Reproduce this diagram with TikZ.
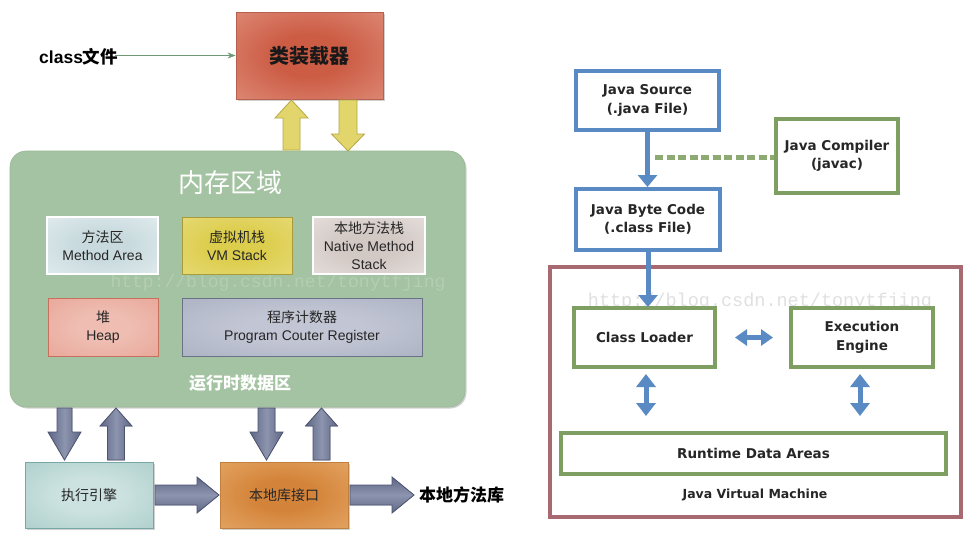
\documentclass[tikz,border=0pt]{standalone}
\usepackage{fontspec}
\setmainfont{Liberation Sans}
\newfontfamily\cjk{Noto Sans CJK SC}
\newfontfamily\jvf{DejaVu Sans}
\newfontfamily\wmf{Liberation Mono}
\usetikzlibrary{arrows.meta,shadows,calc}

\definecolor{memg}{HTML}{A4C3A2}
\definecolor{memgb}{HTML}{98B896}
\definecolor{redin}{HTML}{CC5C44}
\definecolor{redout}{HTML}{E6A090}
\definecolor{redb}{HTML}{B86050}
\definecolor{yelA}{HTML}{E1D56B}
\definecolor{yelB}{HTML}{B5A848}
\definecolor{main}{HTML}{C8DADE}
\definecolor{maout}{HTML}{EEF4F5}
\definecolor{vmin}{HTML}{DCCD4C}
\definecolor{vmout}{HTML}{EBE08A}
\definecolor{vmb}{HTML}{A89B3C}
\definecolor{nain}{HTML}{D2C8C4}
\definecolor{naout}{HTML}{EEEAE8}
\definecolor{hpin}{HTML}{EFBDB2}
\definecolor{hpout}{HTML}{E49C8C}
\definecolor{hpb}{HTML}{C8705E}
\definecolor{pcin}{HTML}{C2C6D4}
\definecolor{pcout}{HTML}{A2A8BC}
\definecolor{pcb}{HTML}{6A7288}
\definecolor{exin}{HTML}{CCE2E0}
\definecolor{exout}{HTML}{9EC6C2}
\definecolor{exb}{HTML}{78A8A6}
\definecolor{ifin}{HTML}{D4843A}
\definecolor{ifout}{HTML}{EBB578}
\definecolor{ifb}{HTML}{C08040}
\definecolor{slA}{HTML}{5E6786}
\definecolor{slB}{HTML}{8C94AE}
\definecolor{slC}{HTML}{4C5470}
\definecolor{jblue}{HTML}{5A8AC4}
\definecolor{jgreen}{HTML}{7E9E62}
\definecolor{jdash}{HTML}{8DAA72}
\definecolor{jred}{HTML}{A86A70}
\definecolor{clsarr}{HTML}{6E9A78}

\newcommand{\glowshade}[3]{\pgfdeclareradialshading{#1}{\pgfpoint{0bp}{0bp}}{color(0bp)=(#2); color(12bp)=(#2); color(50bp)=(#3); color(72bp)=(#3)}}
\glowshade{glowred}{redin}{redout}
\glowshade{glowma}{main}{maout}
\glowshade{glowvm}{vmin}{vmout}
\glowshade{glowna}{nain}{naout}
\glowshade{glowhp}{hpin}{hpout}
\glowshade{glowpc}{pcin}{pcout}
\glowshade{glowex}{exin}{exout}
\glowshade{glowif}{ifin}{ifout}

% vertical block arrow: style, xc, y tail, y tip, shaft half width, head half width, signed head length
\newcommand{\varr}[7]{\filldraw[#1] ({#2-#5},{#3}) -- ({#2-#5},{#4-(#7)}) -- ({#2-#6},{#4-(#7)}) -- ({#2},{#4}) -- ({#2+#6},{#4-(#7)}) -- ({#2+#5},{#4-(#7)}) -- ({#2+#5},{#3}) -- cycle;}
% horizontal block arrow: style, yc, x tail, x tip, shaft half width, head half width, signed head length
\newcommand{\harr}[7]{\filldraw[#1] ({#3},{#2-#5}) -- ({#4-(#7)},{#2-#5}) -- ({#4-(#7)},{#2-#6}) -- ({#4},{#2}) -- ({#4-(#7)},{#2+#6}) -- ({#4-(#7)},{#2+#5}) -- ({#3},{#2+#5}) -- cycle;}

\tikzset{
  shad/.style={drop shadow={shadow xshift=1.5pt,shadow yshift=-1.5pt,opacity=.3,fill=black!60}},
  glowbox/.style={shade, shading=#1, line width=0.8pt, inner sep=0pt, align=center},
  small/.style={font=\fontsize{14}{18}\selectfont, text=black!85},
  jbox/.style={draw, line width=4pt, fill=white, inner sep=0pt, align=center,
     font=\jvf\bfseries\fontsize{13.5}{18.5}\selectfont, text=black!85},
  yarr/.style={fill=yelA, draw=yelB, line width=0.8pt},
  varrs/.style={left color=slA, right color=slA, middle color=slB, draw=slC, line width=0.8pt},
  harrs/.style={top color=slA, bottom color=slA, middle color=slB, draw=slC, line width=0.8pt},
  jarr/.style={draw=jblue, line width=5pt},
}

\begin{document}
\begin{tikzpicture}[x=1pt,y=-1pt]
\useasboundingbox (0,0) rectangle (980,542);
\fill[white] (0,0) rectangle (980,542);

% ---------- left diagram ----------
\node[glowbox=glowred, draw=redb, minimum width=147pt, minimum height=87pt, shad,
      font=\cjk\bfseries\fontsize{20}{20}\selectfont, text=black!90] (loader) at (309.5,55.5) {类装载器};

\node[anchor=west, inner sep=0pt, font=\bfseries\fontsize{17.5}{17.5}\selectfont] (cls) at (39,57) {class{\cjk\bfseries 文件}};
\draw[-{Stealth[length=8pt,width=6pt]}, draw=clsarr, line width=0.8pt] ([xshift=-3pt]cls.east |- loader.west) -- (loader.west);

\node[fill=memg, draw=memgb, line width=0.6pt, rounded corners=16pt, minimum width=455pt, minimum height=256pt, shad] (mem) at (237.5,279) {};
\node[text=memg!82!white, font=\wmf\fontsize{18}{18}\selectfont] (wm1) at (278,283) {http://blog.csdn.net/tonytfjing};
\node[text=white, font=\cjk\fontsize{26}{26}\selectfont] (memt) at (230,183) {内存区域};
\node[text=white, font=\cjk\bfseries\fontsize{17}{17}\selectfont] (rtd) at (240,383) {运行时数据区};

\node[glowbox=glowma, draw=white, line width=1.5pt, minimum width=111pt, minimum height=57pt, small] (ma) at (102.5,245.5) {{\cjk 方法区}\\Method Area};
\node[glowbox=glowvm, draw=vmb, minimum width=110pt, minimum height=57pt, small] (vm) at (237,245.5) {{\cjk 虚拟机栈}\\VM Stack};
\node[glowbox=glowna, draw=white, line width=1.5pt, minimum width=112pt, minimum height=57pt, small] (ns) at (369,245.5) {{\cjk 本地方法栈}\\Native Method\\Stack};
\node[glowbox=glowhp, draw=hpb, minimum width=110pt, minimum height=58pt, small] (hp) at (103,327) {{\cjk 堆}\\Heap};
\node[glowbox=glowpc, draw=pcb, minimum width=240pt, minimum height=58pt, small] (pc) at (302,327) {{\cjk 程序计数器}\\Program Couter Register};

\node[glowbox=glowex, draw=exb, minimum width=128pt, minimum height=66pt, shad, font=\cjk\fontsize{14}{14}\selectfont, text=black!85] (ex) at (89,495) {执行引擎};
\node[glowbox=glowif, draw=ifb, minimum width=128pt, minimum height=66pt, shad, font=\cjk\fontsize{14}{14}\selectfont, text=black!85] (nif) at (284,495) {本地库接口};
\node[anchor=west, inner sep=0pt, font=\cjk\bfseries\fontsize{17}{17}\selectfont] (nlib) at (419,495) {本地方法库};

% yellow arrows between loader and memory
\varr{yarr}{291.5}{150}{100}{8.5}{16.5}{-18}
\varr{yarr}{348}{100}{151}{9}{16.5}{17}

% slate arrows
\varr{varrs}{64.5}{408}{460}{7.5}{16.5}{28}
\varr{varrs}{116}{460}{408}{8.5}{16}{-18}
\varr{varrs}{266.5}{408}{460}{8.5}{16.5}{28}
\varr{varrs}{321.5}{460}{408}{8.5}{16}{-18}
\harr{harrs}{495}{155}{219}{10}{18}{22}
\harr{harrs}{495}{350}{414}{10}{18}{22}

% ---------- right diagram ----------
\node[jbox, draw=jred, minimum width=411pt, minimum height=250pt] (jvm) at (755.5,392) {};
\node[text=black!12, font=\wmf\fontsize{18.5}{18.5}\selectfont] (wm2) at (760,302) {http://blog.csdn.net/tonytfjing};
\node[jbox, draw=jblue, minimum width=143pt, minimum height=59pt] (src) at (647.5,100.5) {Java Source\\(.java File)};
\node[jbox, draw=jgreen, minimum width=122pt, minimum height=74pt] (jc) at (837,156) {Java Compiler\\(javac)};
\node[jbox, draw=jblue, minimum width=144pt, minimum height=61pt] (bc) at (648,219.5) {Java Byte Code\\(.class File)};
\node[jbox, draw=jgreen, minimum width=141pt, minimum height=59pt] (cl) at (644.5,337.5) {Class Loader};
\node[jbox, draw=jgreen, minimum width=142pt, minimum height=59pt] (ee) at (862,337.5) {Execution\\Engine};
\node[jbox, draw=jgreen, minimum width=385pt, minimum height=41pt] (rda) at (753.5,453.5) {Runtime Data Areas};
\node[font=\jvf\bfseries\fontsize{12.5}{12.5}\selectfont, text=black!85] (jvmt) at (755,495) {Java Virtual Machine};

\coordinate (dsh) at (655,157);
\draw[draw=jdash, line width=5pt, dash pattern=on 8pt off 3.5pt] (dsh) -- (jc.west |- dsh);

\draw[jarr, -{Triangle[width=19pt,length=12pt]}] (src.south) -- (src.south |- bc.north);
\draw[jarr, -{Triangle[width=19pt,length=12pt]}] (bc.south) -- ([yshift=-1pt]bc.south |- cl.north);
\draw[jarr, {Triangle[width=16pt,length=12pt]}-{Triangle[width=16pt,length=12pt]}] ([xshift=18pt]cl.east) -- ([xshift=-16pt]ee.west);
\draw[jarr, {Triangle[width=19pt,length=13pt]}-{Triangle[width=19pt,length=13pt]}] ([yshift=-5pt,xshift=1.5pt]cl.south) -- ([xshift=1.5pt,yshift=15pt]cl.south |- rda.north);
\draw[jarr, {Triangle[width=19pt,length=13pt]}-{Triangle[width=19pt,length=13pt]}] ([yshift=-5pt,xshift=-2pt]ee.south) -- ([xshift=-2pt,yshift=15pt]ee.south |- rda.north);
\end{tikzpicture}
\end{document}
